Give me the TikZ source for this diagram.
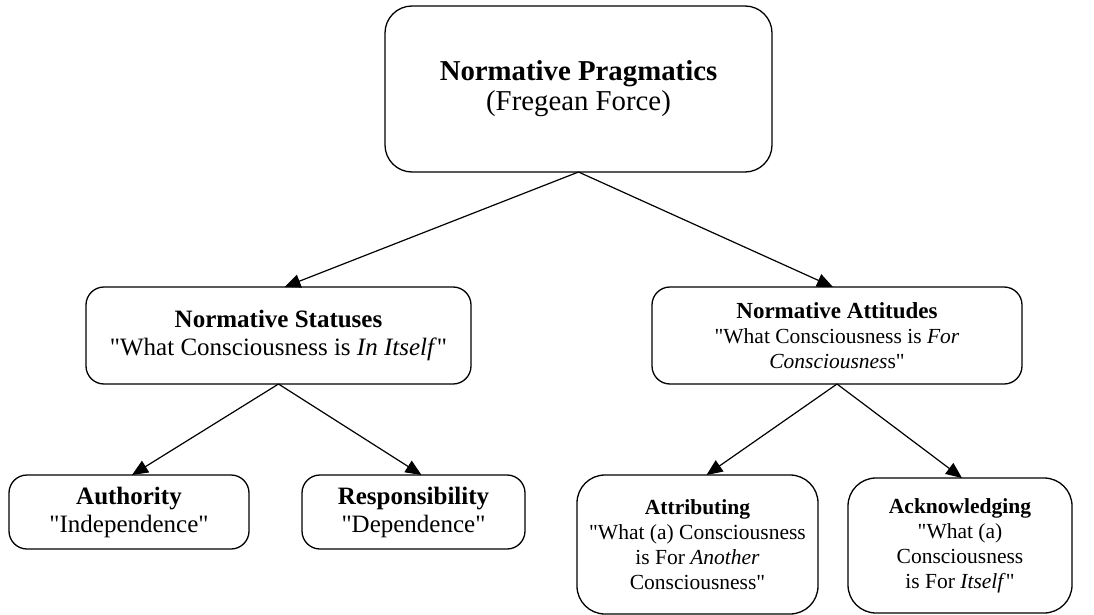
\documentclass[tikz,border=0pt]{standalone}
\usepackage{fontspec}
% no TeX ligature mapping, so that " stays a straight quote
\setmainfont{Liberation Serif}[Ligatures=TeXOff]
\usetikzlibrary{arrows.meta}

\tikzset{
  box/.style={draw, line width=1.3pt, rounded corners=#1, align=center,
              inner sep=0pt, outer sep=0pt},
  box/.default=18pt,
  edge/.style={line width=1.2pt, -{Triangle[length=16pt, width=13.5pt]}},
  big/.style={font=\fontsize{28.8}{30}\selectfont},
  mid/.style={font=\fontsize{25}{28}\selectfont},
  small/.style={font=\fontsize{21.5}{25}\selectfont}
}

\begin{document}
\begin{tikzpicture}[x=1pt, y=-1pt]
  \useasboundingbox (0,0) rectangle (1094,615);

  % root
  \node[box=27pt, big, minimum width=387pt, minimum height=166pt] (prag) at (578.5,89)
    {\textbf{Normative Pragmatics}\\(Fregean Force)};

  % second level
  \node[box, mid, minimum width=385pt, minimum height=97pt] (status) at (278.5,335.5)
    {\textbf{Normative Statuses}\\"What Consciousness is \textit{In Itself}"};
  \node[box, small, minimum width=370pt, minimum height=97pt] (attit) at (837,335.5)
    {{\fontsize{23}{25}\selectfont\textbf{Normative Attitudes}}\\"What Consciousness is \textit{For}\\\textit{Consciousnes}s"};

  % leaves under statuses
  \node[box, mid, minimum width=240pt, minimum height=74pt] (auth) at (129,512)
    {\textbf{Authority}\\"Independence"};
  \node[box, mid, minimum width=223pt, minimum height=74pt] (resp) at (413.5,512)
    {\textbf{Responsibility}\\"Dependence"};

  % leaves under attitudes
  \node[box=28pt, small, minimum width=241pt, minimum height=139pt] (attr) at (697.5,544.5)
    {\textbf{Attributing}\\"What (a) Consciousness\\is For \textit{Another}\\Consciousness"};
  \node[box=28pt, small, minimum width=224pt, minimum height=135pt] (ackn) at (960,545.5)
    {\textbf{Acknowledging}\\"What (a)\\Consciousness\\ is For \textit{Itself}"};

  % connectors
  \draw[edge] (prag.south) -- ([xshift=6pt]status.north);
  \draw[edge] (prag.south) -- ([xshift=-4pt]attit.north);
  \draw[edge] (status.south) -- ([xshift=3pt]auth.north);
  \draw[edge] (status.south) -- ([xshift=8pt]resp.north);
  \draw[edge] (attit.south) -- ([xshift=9pt]attr.north);
  \draw[edge] (attit.south) -- ([xshift=2pt]ackn.north);
\end{tikzpicture}
\end{document}
